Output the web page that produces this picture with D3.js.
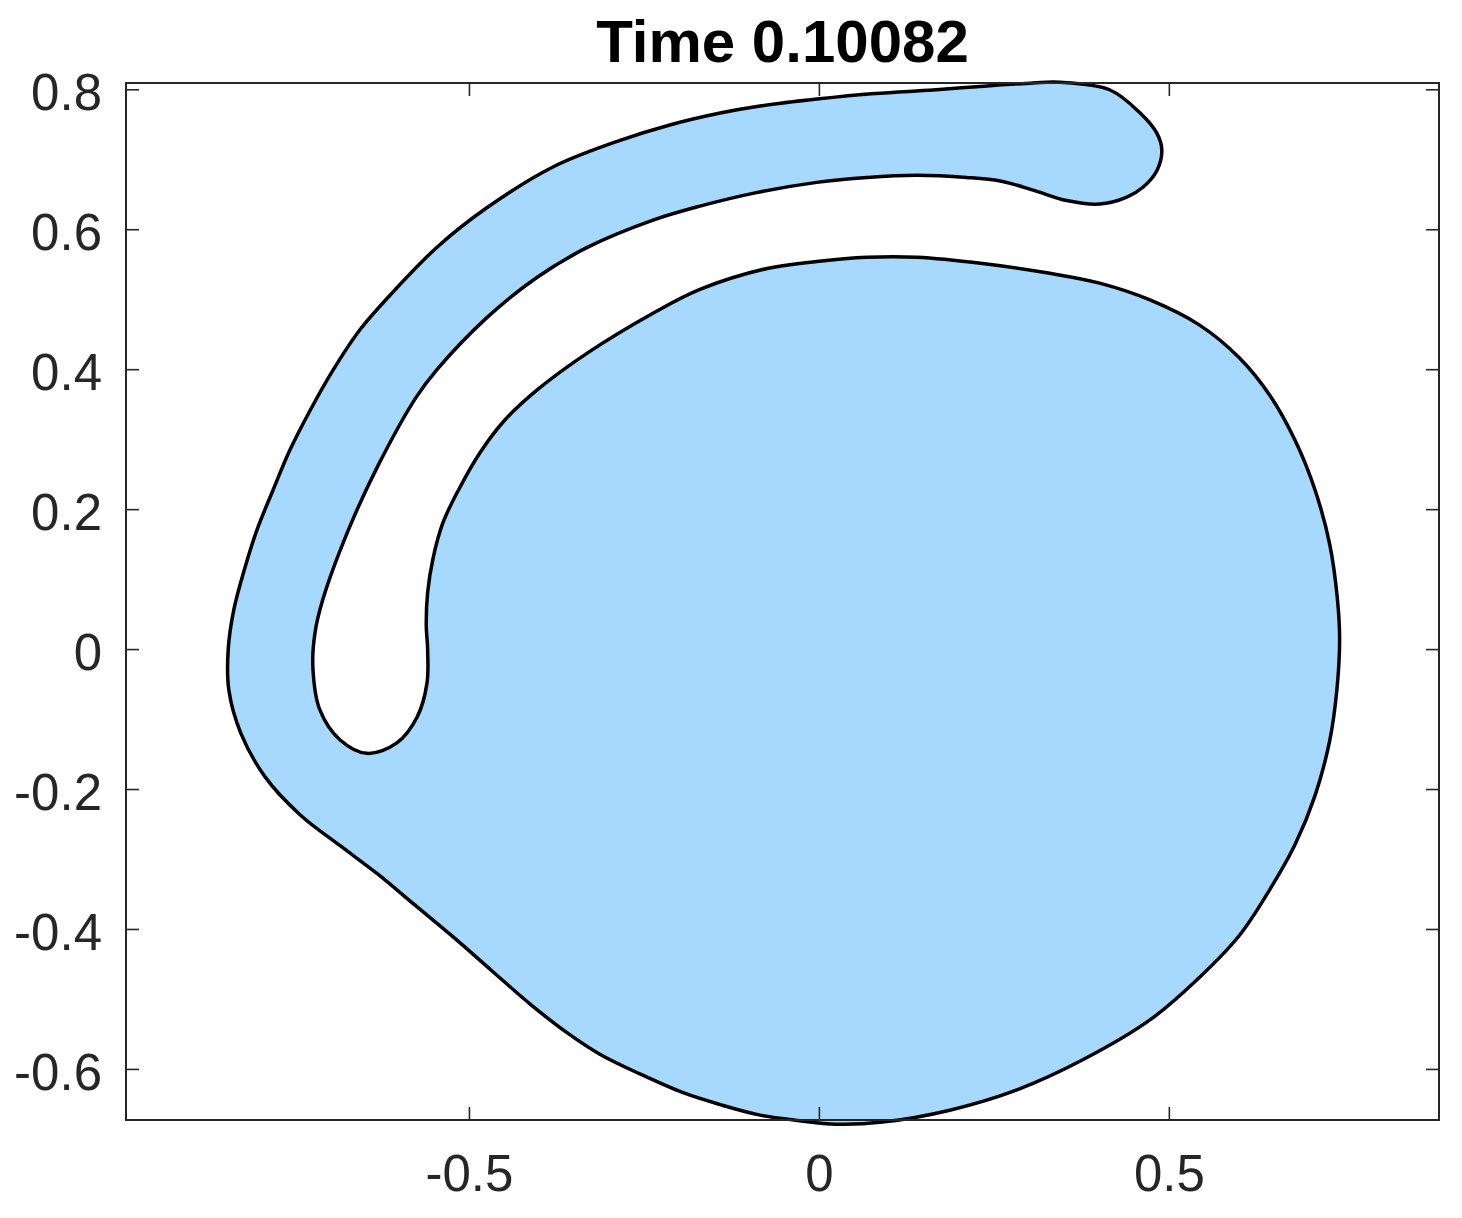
<!DOCTYPE html>
<html><head><meta charset="utf-8">
<script src="https://cdn.jsdelivr.net/npm/d3@7"></script>
<style>body{margin:0;background:#fff} svg{display:block}</style>
</head><body>
<script>
const titleText = "Time 0.10082";
const xTicks = [-0.5, 0, 0.5];
const xTickLabels = ["-0.5", "0", "0.5"];
const yTicks = [-0.6, -0.4, -0.2, 0, 0.2, 0.4, 0.6, 0.8];
const yTickLabels = ["-0.6", "-0.4", "-0.2", "0", "0.2", "0.4", "0.6", "0.8"];
const xDomain = [-0.99, 0.886];
const yDomain = [-0.673, 0.809];

// Boundary of the interface (one closed curve)
const shapeX = [0.490,0.483,0.459,0.416,0.344,0.306,0.230,0.163,0.080,-0.003,-0.084,-0.141,-0.213,-0.284,-0.380,-0.474,-0.546,-0.606,-0.656,-0.694,-0.727,-0.756,-0.780,-0.803,-0.821,-0.836,-0.844,-0.843,-0.826,-0.791,-0.741,-0.684,-0.631,-0.577,-0.523,-0.467,-0.413,-0.363,-0.313,-0.256,-0.194,-0.141,-0.084,-0.027,0.024,0.091,0.187,0.283,0.377,0.473,0.544,0.601,0.644,0.680,0.709,0.730,0.740,0.744,0.741,0.730,0.709,0.680,0.644,0.601,0.544,0.473,0.401,0.330,0.234,0.140,0.069,-0.003,-0.074,-0.170,-0.237,-0.331,-0.403,-0.449,-0.484,-0.513,-0.537,-0.551,-0.559,-0.561,-0.559,-0.560,-0.574,-0.603,-0.646,-0.684,-0.713,-0.723,-0.720,-0.709,-0.674,-0.631,-0.576,-0.546,-0.474,-0.403,-0.331,-0.237,-0.170,-0.091,-0.003,0.069,0.140,0.211,0.259,0.306,0.354,0.401,0.440,0.463,0.483];
const shapeY = [0.713,0.737,0.766,0.799,0.810,0.809,0.804,0.799,0.794,0.786,0.776,0.766,0.749,0.727,0.689,0.631,0.574,0.513,0.456,0.399,0.341,0.284,0.227,0.170,0.113,0.056,-0.001,-0.059,-0.120,-0.183,-0.237,-0.281,-0.321,-0.366,-0.411,-0.460,-0.507,-0.546,-0.579,-0.607,-0.634,-0.651,-0.666,-0.674,-0.679,-0.676,-0.659,-0.630,-0.587,-0.530,-0.469,-0.409,-0.344,-0.280,-0.209,-0.130,-0.059,0.013,0.070,0.149,0.227,0.299,0.363,0.416,0.463,0.499,0.523,0.537,0.551,0.560,0.560,0.554,0.544,0.514,0.480,0.423,0.370,0.327,0.281,0.231,0.181,0.131,0.081,0.034,-0.001,-0.049,-0.097,-0.134,-0.149,-0.130,-0.087,-0.026,0.023,0.070,0.166,0.260,0.359,0.399,0.474,0.531,0.574,0.613,0.633,0.652,0.667,0.674,0.677,0.674,0.669,0.656,0.641,0.636,0.646,0.660,0.684];

const W = 1462, H = 1218;
const L = 126, R = 1439, T = 83, B = 1120;
const font = "'Liberation Sans', Arial, Helvetica, sans-serif";
const axisColor = "#262626";

const svg = d3.select("body").append("svg").attr("width", W).attr("height", H);

const x = d3.scaleLinear().domain(xDomain).range([L, R]);
const y = d3.scaleLinear().domain(yDomain).range([B, T]);

const pts = shapeX.map((v, i) => [v, shapeY[i]]);
const line = d3.line().x(d => x(d[0])).y(d => y(d[1])).curve(d3.curveCatmullRomClosed.alpha(0.5));

svg.append("path")
  .attr("d", line(pts))
  .attr("fill", "#a6d9fd")
  .attr("stroke", "#000")
  .attr("stroke-width", 3.5)
  .attr("stroke-linejoin", "round");

function styleAxis(g) {
  g.select(".domain").remove();
  g.selectAll(".tick line").attr("stroke", axisColor).attr("stroke-width", 1.6);
  g.selectAll(".tick text").attr("fill", axisColor).attr("font-size", 51).attr("font-family", font);
}

svg.append("g").attr("transform", `translate(0,${B})`)
  .call(d3.axisBottom(x).tickValues(xTicks).tickSize(-13).tickPadding(35).tickFormat((d, i) => xTickLabels[i]))
  .call(styleAxis);
svg.append("g").attr("transform", `translate(0,${T})`)
  .call(d3.axisTop(x).tickValues(xTicks).tickSize(-13).tickFormat(""))
  .call(styleAxis);
svg.append("g").attr("transform", `translate(${L},0)`)
  .call(d3.axisLeft(y).tickValues(yTicks).tickSize(-13).tickPadding(24).tickFormat((d, i) => yTickLabels[i]))
  .call(styleAxis)
  .call(g => g.selectAll(".tick text").attr("dy", "0.4em"));
svg.append("g").attr("transform", `translate(${R},0)`)
  .call(d3.axisRight(y).tickValues(yTicks).tickSize(-13).tickFormat(""))
  .call(styleAxis);

svg.append("rect")
  .attr("x", L).attr("y", T).attr("width", R - L).attr("height", B - T)
  .attr("fill", "none").attr("stroke", axisColor).attr("stroke-width", 2);

svg.append("text")
  .attr("x", (L + R) / 2).attr("y", 62)
  .attr("text-anchor", "middle")
  .attr("font-family", font).attr("font-weight", "bold").attr("font-size", 60)
  .attr("fill", "#000")
  .text(titleText);
</script>
</body></html>
